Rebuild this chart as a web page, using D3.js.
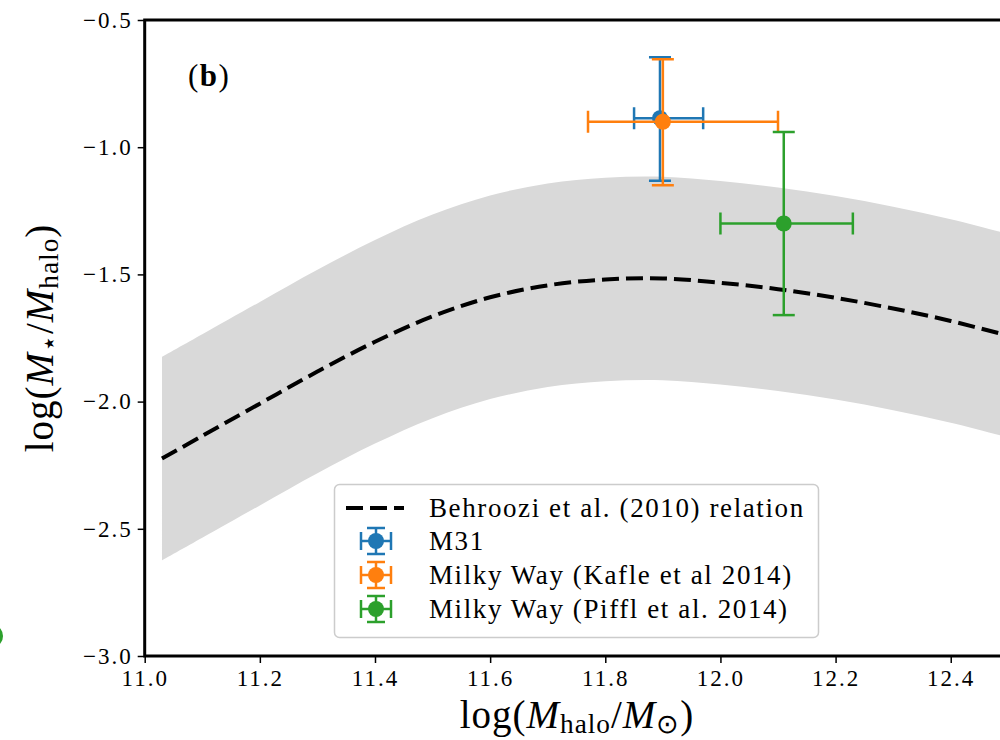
<!DOCTYPE html>
<html>
<head>
<meta charset="utf-8">
<style>
  body { margin: 0; background: white; }
  svg { display: block; }
  text { font-family: "Liberation Serif", serif; fill: black; }
</style>
</head>
<body>
<div id="chart"></div>
<script src="https://d3js.org/d3.v7.min.js"></script>
<script>

// Behroozi et al. (2010) relation
var haloMass = [11.03, 11.1, 11.2, 11.3, 11.4, 11.5, 11.6, 11.7, 11.8, 11.9, 12.0, 12.1, 12.2, 12.3, 12.4, 12.5];
var ratio    = [-2.224, -2.135, -2.008, -1.882, -1.765, -1.665, -1.59, -1.543, -1.52, -1.516, -1.533, -1.558, -1.592, -1.634, -1.683, -1.741];
var bandUpper = [-1.824, -1.735, -1.608, -1.482, -1.365, -1.265, -1.19, -1.143, -1.12, -1.116, -1.133, -1.158, -1.192, -1.234, -1.283, -1.341];
var bandLower = [-2.624, -2.535, -2.408, -2.282, -2.165, -2.065, -1.99, -1.943, -1.92, -1.916, -1.933, -1.958, -1.992, -2.034, -2.083, -2.141];

// observed galaxies
var names   = ["M31", "Milky Way (Kafle et al 2014)", "Milky Way (Piffl et al. 2014)"];
var colors  = ["#1f77b4", "#ff7f0e", "#2ca02c"];
var obsX    = [11.895, 11.90, 12.11];
var obsY    = [-0.886, -0.90, -1.30];
var xErrLo  = [0.045, 0.13, 0.11];
var xErrHi  = [0.075, 0.20, 0.12];
var yErrLo  = [0.246, 0.25, 0.36];
var yErrHi  = [0.24, 0.246, 0.36];

var xTicks = [11.0, 11.2, 11.4, 11.6, 11.8, 12.0, 12.2, 12.4];
var yTicks = [-3.0, -2.5, -2.0, -1.5, -1.0, -0.5];

var width = 1000, height = 740;
var plot = { left: 144.7, top: 20, bottom: 656, right: 1008.3 };
var serif = "Liberation Serif";

var svg = d3.select("#chart").append("svg")
  .attr("width", width)
  .attr("height", height);

var x = d3.scaleLinear().domain([11.0, 12.5]).range([plot.left, plot.right]);
var y = d3.scaleLinear().domain([-3.0, -0.5]).range([plot.bottom, plot.top]);

svg.append("clipPath").attr("id", "clip")
  .append("rect")
  .attr("x", plot.left).attr("y", plot.top)
  .attr("width", plot.right - plot.left).attr("height", plot.bottom - plot.top);

var g = svg.append("g").attr("clip-path", "url(#clip)");

// grey band
var band = haloMass.map(function(m, i) { return { m: m, lo: bandLower[i], hi: bandUpper[i] }; });
g.append("path")
  .datum(band)
  .attr("fill", "#d9d9d9")
  .attr("d", d3.area()
    .x(function(d) { return x(d.m); })
    .y0(function(d) { return y(d.lo); })
    .y1(function(d) { return y(d.hi); })
    .curve(d3.curveCatmullRom));

// dashed relation
var rel = haloMass.map(function(m, i) { return { m: m, r: ratio[i] }; });
g.append("path")
  .datum(rel)
  .attr("fill", "none")
  .attr("stroke", "black")
  .attr("stroke-width", 4)
  .attr("stroke-dasharray", "17,7")
  .attr("d", d3.line()
    .x(function(d) { return x(d.m); })
    .y(function(d) { return y(d.r); })
    .curve(d3.curveCatmullRom));

// error bars
var cap = 11;
names.forEach(function(n, i) {
  var e = g.append("g").attr("stroke", colors[i]).attr("stroke-width", 2.5);
  var cx = x(obsX[i]), cy = y(obsY[i]);
  var x0 = x(obsX[i] - xErrLo[i]), x1 = x(obsX[i] + xErrHi[i]);
  var y0 = y(obsY[i] - yErrLo[i]), y1 = y(obsY[i] + yErrHi[i]);
  e.append("line").attr("x1", x0).attr("x2", x1).attr("y1", cy).attr("y2", cy);
  e.append("line").attr("x1", cx).attr("x2", cx).attr("y1", y0).attr("y2", y1);
  e.append("line").attr("x1", x0).attr("x2", x0).attr("y1", cy - cap).attr("y2", cy + cap);
  e.append("line").attr("x1", x1).attr("x2", x1).attr("y1", cy - cap).attr("y2", cy + cap);
  e.append("line").attr("x1", cx - cap).attr("x2", cx + cap).attr("y1", y0).attr("y2", y0);
  e.append("line").attr("x1", cx - cap).attr("x2", cx + cap).attr("y1", y1).attr("y2", y1);
  g.append("circle").attr("cx", cx).attr("cy", cy).attr("r", 8).attr("fill", colors[i]);
});

// axes
var xAxis = svg.append("g")
  .attr("transform", "translate(0," + plot.bottom + ")")
  .call(d3.axisBottom(x).tickValues(xTicks).tickSize(7).tickPadding(7)
    .tickFormat(d3.format(".1f")));
var yAxis = svg.append("g")
  .attr("transform", "translate(" + plot.left + ",0)")
  .call(d3.axisLeft(y).tickValues(yTicks).tickSize(7).tickPadding(5)
    .tickFormat(function(d) { return "\u2212" + d3.format(".1f")(-d); }));

[xAxis, yAxis].forEach(function(a) {
  a.attr("font-family", serif).attr("font-size", 23);
  a.select(".domain").remove();
  a.selectAll(".tick line").attr("stroke", "black").attr("stroke-width", 1.5);
  a.selectAll(".tick text")
    .attr("font-family", serif)
    .style("font-family", serif)
    .style("font-size", "23px")
    .style("letter-spacing", "2px")
    .attr("fill", "black");
});

// spines
svg.append("rect")
  .attr("x", plot.left).attr("y", plot.top)
  .attr("width", plot.right - plot.left).attr("height", plot.bottom - plot.top)
  .attr("fill", "none").attr("stroke", "black").attr("stroke-width", 3);

// panel label
var lab = svg.append("text").attr("x", 188).attr("y", 86)
  .style("font-size", "31px").style("letter-spacing", "1.5px");
lab.append("tspan").text("(");
lab.append("tspan").style("font-weight", "bold").text("b");
lab.append("tspan").text(")");

// axis labels
function massLabel(t, parts) {
  parts.forEach(function(p) {
    var s = t.append("tspan").text(p[0]);
    if (p[1] == "i") s.style("font-style", "italic");
    if (p[1] == "sub") s.style("font-size", "0.7em").attr("dy", "0.2em");
    if (p[1] == "up") s.attr("dy", "-0.14em");
  });
}
var xl = svg.append("text")
  .attr("x", 577).attr("y", 728)
  .attr("text-anchor", "middle")
  .style("font-size", "39px").style("letter-spacing", "1px");
massLabel(xl, [["log(", ""], ["M", "i"], ["halo", "sub"], ["/", "up"], ["M", "i"], ["\u2299", "sub"], [")", "up"]]);

var yl = svg.append("text")
  .attr("transform", "translate(53,338) rotate(-90)")
  .attr("text-anchor", "middle")
  .style("font-size", "39px").style("letter-spacing", "1px");
massLabel(yl, [["log(", ""], ["M", "i"], ["\u22c6", "sub"], ["/", "up"], ["M", "i"], ["halo", "sub"], [")", "up"]]);

// legend
var leg = svg.append("g");
leg.append("rect")
  .attr("x", 334.5).attr("y", 484.5).attr("width", 484).attr("height", 153).attr("rx", 5)
  .attr("fill", "white").attr("fill-opacity", 0.8)
  .attr("stroke", "#cccccc").attr("stroke-width", 1.5);

var rowY = [508, 541, 575, 609];
leg.append("line")
  .attr("x1", 346).attr("x2", 404).attr("y1", rowY[0]).attr("y2", rowY[0])
  .attr("stroke", "black").attr("stroke-width", 4).attr("stroke-dasharray", "17,7");
leg.append("text").attr("x", 429).attr("y", rowY[0] + 9)
  .style("font-size", "27px").style("letter-spacing", "1.6px")
  .text("Behroozi et al. (2010) relation");

names.forEach(function(n, i) {
  var ry = rowY[i + 1], cx = 376;
  var e = leg.append("g").attr("stroke", colors[i]).attr("stroke-width", 2.5);
  e.append("line").attr("x1", cx - 15).attr("x2", cx + 15).attr("y1", ry).attr("y2", ry);
  e.append("line").attr("x1", cx).attr("x2", cx).attr("y1", ry - 13).attr("y2", ry + 13);
  e.append("line").attr("x1", cx - 15).attr("x2", cx - 15).attr("y1", ry - 9).attr("y2", ry + 9);
  e.append("line").attr("x1", cx + 15).attr("x2", cx + 15).attr("y1", ry - 9).attr("y2", ry + 9);
  e.append("line").attr("x1", cx - 9).attr("x2", cx + 9).attr("y1", ry - 13).attr("y2", ry - 13);
  e.append("line").attr("x1", cx - 9).attr("x2", cx + 9).attr("y1", ry + 13).attr("y2", ry + 13);
  leg.append("circle").attr("cx", cx).attr("cy", ry).attr("r", 8).attr("fill", colors[i]);
  leg.append("text").attr("x", 429).attr("y", ry + 9)
    .style("font-size", "27px").style("letter-spacing", "1.6px")
    .text(n);
});

// fragment of the neighbouring panel at the left edge
svg.append("ellipse")
  .attr("cx", -5).attr("cy", 636).attr("rx", 8).attr("ry", 10)
  .attr("fill", "#2ca02c");

</script>
</body>
</html>
